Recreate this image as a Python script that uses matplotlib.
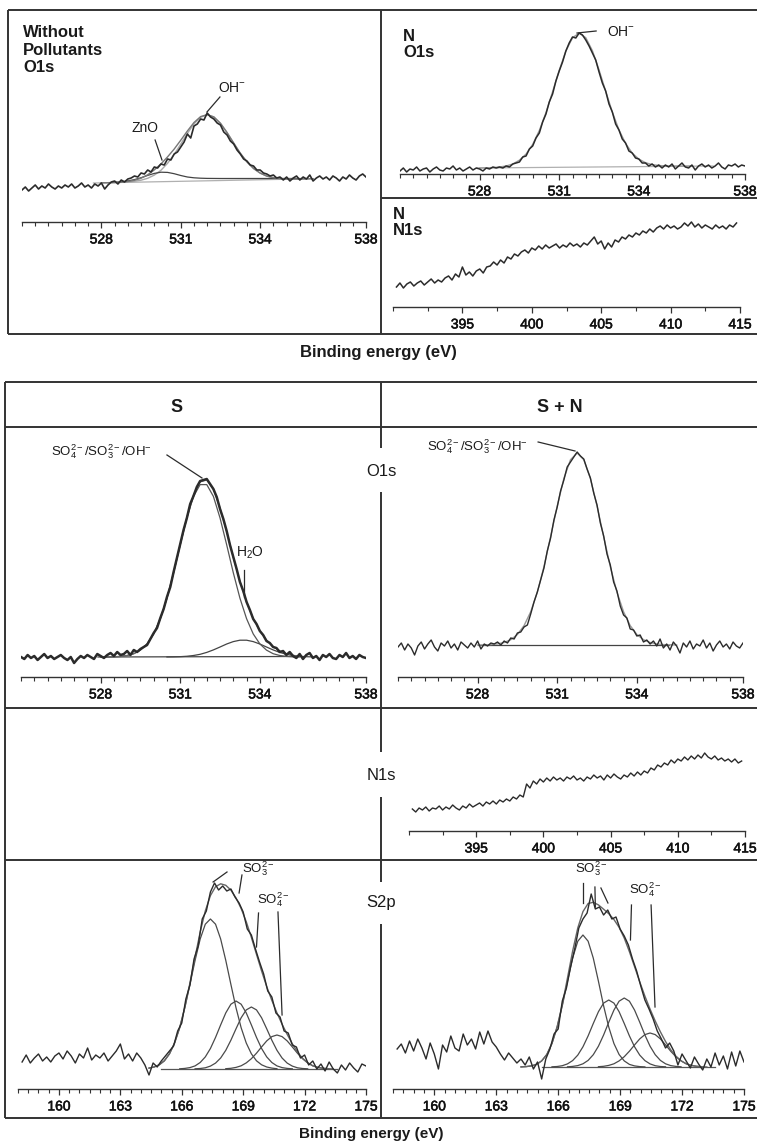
import numpy as np
import matplotlib
matplotlib.use("Agg")
import matplotlib.pyplot as plt
import matplotlib.patheffects as pe

plt.rcParams['font.family'] = ['Liberation Sans', 'DejaVu Sans']
plt.rcParams['mathtext.fontset'] = 'custom'
plt.rcParams['mathtext.rm'] = 'Liberation Sans'
plt.rcParams['mathtext.it'] = 'Liberation Sans:italic'
plt.rcParams['mathtext.bf'] = 'Liberation Sans:bold'

W, H = 757, 1144

# ---- energy grids (eV) ----
o1s_grid = np.linspace(525, 538, 105)
n1s_grid = np.linspace(390.25, 414.75, 99)
s2p_grid = np.linspace(158.2, 175.0, 85)

# ---- without pollutants, O1s (intensity, a.u.) ----
clean_o1s = [32, 35, 31, 34, 37, 33, 36, 34, 38, 35, 33, 36, 34, 37, 35, 38, 34, 36, 39, 35,
             37, 34, 38, 36, 39, 33, 37, 40,
             41, 38, 42, 40, 43, 44, 46, 45, 49, 48, 52, 50, 55, 54, 58, 57, 63, 62, 68, 70,
             75, 80, 88, 84, 96, 98, 103, 102, 109, 105, 103, 99, 97, 90, 87, 81, 78, 72, 68, 63,
             61, 57, 56, 52, 52, 49, 48, 46, 47, 44, 45, 42, 45,
             41, 44, 46, 42, 45, 43, 47, 41, 44, 46, 43, 45, 42, 46, 44, 41, 45, 43, 47, 44,
             42, 46, 48, 45]
clean_fit_e = np.linspace(528, 536, 33)
clean_oh = [39.2, 39.3, 39.5, 39.7, 40.1, 40.7, 41.8, 43.7, 46.9, 51.7, 58.7, 67.5, 77.9, 88.6,
            98.2, 104.8, 107.2, 105.0, 98.7, 89.4, 78.9, 68.7, 60.2, 53.5, 48.9, 45.9, 44.3,
            43.5, 43.1, 43.0, 43.0, 43.1, 43.3]
clean_env = [39.2, 39.3, 39.5, 39.8, 40.5, 41.7, 43.8, 47.2, 52.1, 58.0, 65.1, 72.9, 81.8, 91.0,
             99.5, 105.4, 107.4, 105.1, 98.7, 89.4, 78.9, 68.7, 60.2, 53.5, 48.9, 45.9, 44.3,
             43.5, 43.1, 43.0, 43.0, 43.1, 43.3]
clean_zno_e = [528.5, 528.75, 529.0, 529.25, 529.5, 529.75, 530.0, 530.25, 530.5, 530.75, 531.0,
               531.25, 531.5, 531.75, 532.0, 532.5, 535.5]
clean_zno = [39.6, 40.2, 41.1, 42.4, 44.3, 46.6, 48.6, 49.8, 49.6, 48.3, 46.5, 45.0, 44.2, 43.8,
             43.6, 43.5, 43.5]
clean_bg_e = [527.7, 535.5]
clean_bg = [39, 43]

# ---- N, O1s ----
n_o1s = [3, 6, 2, 5, 4, 7, 3, 5, 6, 2, 5, 7, 4, 3, 6, 5, 8, 4, 6, 3, 5, 7, 4, 6, 5, 3, 6, 5, 7, 6,
         7, 6, 8, 7, 10, 11, 12, 17, 18, 25, 28, 36, 41, 52, 60, 72, 80, 93, 103, 112,
         123, 131, 137, 136, 141, 139, 134, 128, 121, 114, 102, 91, 83, 70, 62, 50, 44, 35, 31, 23,
         21, 16, 15, 11, 11, 8, 10, 7, 9,
         6, 9, 7, 10, 5, 8, 11, 7, 6, 9, 4, 8, 10, 7, 9, 6, 8, 11, 7, 5, 9, 8, 10, 7, 9, 8]
n_fit_e = np.linspace(528, 536, 33)
n_oh = [6.0, 6.2, 6.4, 7.0, 8.0, 10.0, 13.8, 19.9, 29.6, 43.5, 61.3, 82.3, 103.7, 123.0, 136.2,
        140.9, 136.3, 123.3, 104.1, 82.8, 62.0, 44.2, 30.6, 20.9, 14.9, 11.3, 9.4, 8.5, 8.1, 8.0,
        7.9, 7.9, 8.0]
n_bg_e = [527.9, 536.8]
n_bg = [6, 8]

# ---- N, N1s ----
n_n1s = [20, 24, 19, 23, 25, 21, 24, 26, 22, 25, 28, 24, 27, 25, 29, 31, 27, 33, 30, 40,
         32, 35, 31, 36, 38, 34, 40, 41, 45, 42, 47, 44, 50, 48, 53, 51, 55, 57, 54, 59,
         57, 61, 58, 62, 59, 61, 63, 59, 62, 60, 64, 61, 63, 60, 64, 62, 66, 70, 63, 66,
         58, 64, 60, 67, 65, 70, 68, 72, 70, 74, 72, 76, 74, 78, 75, 79, 81, 78, 82, 79,
         81, 78, 80, 84, 81, 85, 80, 83, 79, 82, 80, 78, 82, 79, 81, 78, 82, 80, 84]

# ---- S, O1s ----
s_o1s = [20, 18, 22, 19, 21, 17, 20, 23, 19, 21, 18, 20, 22, 19, 17, 20, 14, 18, 21, 19, 22, 20,
         18, 23, 21, 19, 22, 24, 21, 25, 22, 23, 26, 22, 27, 25,
         28, 30, 32, 38, 44, 49, 59, 68, 80, 90, 105, 119, 133, 147, 159, 173, 181, 190, 196, 197,
         198, 193, 188, 180, 168, 158, 146, 132, 120, 108, 95, 86, 75, 67, 58, 53, 46, 42, 36, 34,
         30, 29, 25, 26, 22, 25,
         21, 19, 23, 18, 22, 24, 19, 21, 17, 22, 20, 23, 19, 18, 22, 20, 24, 19, 21, 18, 22, 20, 19]
s_fit_e = np.linspace(528, 535.5, 31)
s_main = [20.0, 20.0, 20.2, 20.6, 21.5, 23.3, 26.9, 33.1, 43.1, 58.3, 78.8, 104.2, 132.2, 159.0,
          180.6, 192.4, 192.4, 180.6, 159.0, 132.2, 104.2, 78.8, 58.3, 43.1, 33.1, 26.9, 23.3,
          21.5, 20.6, 20.2, 20.0]
s_env = [20.0, 20.0, 20.2, 20.6, 21.5, 23.3, 26.9, 33.1, 43.1, 58.3, 78.9, 104.3, 132.5, 159.7,
         182.1, 195.1, 197.0, 187.7, 169.0, 145.2, 119.6, 95.6, 75.1, 58.5, 46.1, 36.9, 30.4,
         26.1, 23.3, 21.7, 20.7]
s_h2o_e = np.linspace(530.5, 536.0, 23)
s_h2o = [20.05, 20.14, 20.34, 20.74, 21.5, 22.7, 24.6, 27.1, 30.0, 33.0, 35.4, 36.8, 36.8, 35.4,
         33.0, 30.0, 27.1, 24.6, 22.7, 21.5, 20.7, 20.3, 20.1]
s_bg_e = [527.9, 535.2]
s_bg = [20, 20.5]

# ---- S + N, O1s ----
sn_o1s = [30, 34, 27, 33, 29, 22, 31, 35, 28, 33, 37, 30, 26, 34, 31, 36, 29, 33, 27, 35, 32, 29,
          34, 30, 36, 28, 33, 31, 34,
          33, 35, 32, 36, 34, 39, 38, 44, 45, 50, 52, 63, 75, 85, 97, 109, 126, 139, 157, 170,
          186, 197, 210, 215, 220, 225, 221, 218, 208, 199, 184, 172, 154, 141, 123, 112, 95, 86,
          71, 62, 59, 48, 47, 41, 42, 35, 37, 33, 36, 31,
          38, 29, 33, 27, 35, 31, 24, 34, 30, 36, 28, 33, 31, 37, 29, 34, 26, 32, 36, 30, 33, 28,
          35, 31, 29, 34]
sn_fit_e = np.linspace(528, 535.5, 31)
sn_main = [32.0, 32.2, 32.4, 33.1, 34.5, 37.3, 42.5, 51.4, 65.2, 84.8, 110.3, 140.3, 171.0, 198.5,
           217.3, 224.0, 217.3, 198.5, 171.0, 140.3, 110.3, 84.8, 65.2, 51.4, 42.5, 37.3, 34.5,
           33.1, 32.4, 32.2, 32.0]
sn_bg_e = [528.0, 535.2]
sn_bg = [32, 32]

# ---- S + N, N1s ----
sn_n1s = [22, 19, 23, 21, 24, 20, 23, 22, 25, 21, 24, 22, 26, 23, 21, 25, 23, 27, 24, 26,
          28, 25, 29, 27, 30, 27, 31, 29, 32, 30, 34, 32, 36, 34, 47, 43, 50, 47, 52, 49,
          53, 50, 54, 51, 53, 50, 54, 52, 55, 51, 53, 50, 54, 52, 56, 53, 55, 51, 56, 53,
          57, 54, 52, 56, 54, 58, 55, 59, 56, 60, 58, 63, 61, 66, 64, 68, 66, 71, 68, 72,
          70, 74, 71, 75, 72, 76, 73, 78, 74, 72, 75, 71, 73, 70, 72, 69, 72, 68, 70]

# ---- S, S2p ----
s_s2p = [27, 34, 26, 31, 35, 28, 32, 27, 33, 36, 30, 38, 33, 26, 35, 31, 41, 29, 34, 31,
         36, 28, 33, 38, 45, 30, 35, 28, 36, 31, 24, 14, 26, 22, 28,
         33, 38, 43, 58, 66, 90, 104, 130, 143, 170, 178, 197, 206, 199, 203, 198, 200, 192, 186,
         177, 160, 154, 140, 127, 115, 98, 92, 76, 72, 58, 56, 44, 42, 31, 34, 24, 28, 20, 25, 18,
         27, 20, 16, 24, 19, 26, 21, 17, 25, 23]
s_s2p_env_e = np.linspace(164.4, 173.4, 37)
s_s2p_env = [20.9, 22.0, 24.2, 28.2, 35.2, 46.1, 61.5, 81.8, 106.1, 131.9, 157.0, 178.1, 193.4,
             202.3, 205.2, 203.7, 198.9, 191.0, 180.5, 167.3, 151.6, 134.7, 118.0, 102.4, 88.6,
             76.1, 64.8, 54.6, 45.2, 37.0, 30.8, 26.3, 23.2, 21.6, 20.7, 20.3, 20.1]
s_s2p_c1_e = np.linspace(164.4, 170.65, 26)
s_s2p_c1 = [20.9, 22.0, 24.2, 28.2, 35.2, 46.0, 61.3, 81.2, 104.6, 128.6, 150.0, 164.8, 170.0,
            164.8, 150.0, 128.6, 104.6, 81.2, 61.3, 46.0, 35.2, 28.2, 24.2, 22.0, 20.9, 20.3]
s_s2p_c2_e = np.linspace(165.9, 171.4, 23)
s_s2p_c2 = [20.2, 20.6, 21.4, 23.1, 26.5, 32.1, 40.5, 51.6, 64.1, 76.1, 84.8, 88.0, 84.8, 76.1,
            64.1, 51.6, 40.5, 32.1, 26.5, 23.1, 21.4, 20.6, 20.2]
s_s2p_c3_e = np.linspace(166.65, 172.15, 23)
s_s2p_c3 = [20.2, 20.5, 21.2, 22.9, 25.9, 31.0, 38.7, 48.8, 60.2, 71.2, 79.1, 82.0, 79.1, 71.2,
            60.2, 48.8, 38.7, 31.0, 25.9, 22.9, 21.2, 20.5, 20.2]
s_s2p_c4_e = np.linspace(168.15, 173.15, 21)
s_s2p_c4 = [20.3, 20.7, 21.6, 23.2, 26.1, 30.3, 35.8, 42.1, 48.1, 52.4, 54.0, 52.4, 48.1, 42.1,
            35.8, 30.3, 26.1, 23.2, 21.6, 20.7, 20.3]
s_s2p_bg_e = [165.0, 173.6]
s_s2p_bg = [20, 20]

# ---- S + N, S2p ----
sn_s2p = [40, 45, 36, 48, 38, 50, 41, 30, 46, 35, 20, 44, 37, 53, 41, 38, 55, 44, 50, 40,
          57, 45, 58, 47, 42, 35, 29, 36, 31, 26, 30, 24, 32, 20, 27, 10, 30,
          40, 55, 60, 88, 101, 122, 140, 161, 170, 176, 195, 180, 182, 174, 179, 170, 172, 160,
          153, 144, 130, 118, 103, 89, 80, 70, 58, 50, 41, 46, 38, 24, 35, 28, 21,
          32, 25, 19, 30, 22, 36, 24, 33, 20, 37, 23, 38, 27]
sn_s2p_env_e = np.linspace(164.2, 173.2, 37)
sn_s2p_env = [22.1, 22.4, 23.1, 24.6, 28.1, 34.5, 45.7, 62.4, 84.5, 111.0, 137.9, 161.1, 177.4,
              185.5, 186.7, 184.1, 179.8, 175.3, 169.5, 161.7, 150.9, 137.3, 122.3, 107.2, 92.9,
              79.9, 68.0, 57.2, 47.5, 39.2, 32.9, 28.3, 25.2, 23.6, 22.7, 22.3, 22.0]
sn_s2p_c1_e = np.linspace(164.2, 170.2, 25)
sn_s2p_c1 = [22.1, 22.4, 23.1, 24.6, 28.1, 34.5, 45.5, 61.9, 83.2, 107.7, 130.9, 147.8, 154.0,
             147.8, 130.9, 107.7, 83.2, 61.9, 45.5, 34.5, 28.1, 24.6, 23.1, 22.4, 22.1]
sn_s2p_c2_e = np.linspace(165.7, 171.2, 23)
sn_s2p_c2 = [22.2, 22.5, 23.3, 25.1, 28.4, 33.9, 42.2, 53.1, 65.5, 77.3, 85.9, 89.0, 85.9, 77.3,
             65.5, 53.1, 42.2, 33.9, 28.4, 25.1, 23.3, 22.5, 22.2]
sn_s2p_c3_e = np.linspace(166.45, 171.95, 23)
sn_s2p_c3 = [22.2, 22.6, 23.4, 25.2, 28.6, 34.3, 42.8, 54.0, 66.8, 78.9, 87.8, 91.0, 87.8, 78.9,
             66.8, 54.0, 42.8, 34.3, 28.6, 25.2, 23.4, 22.6, 22.2]
sn_s2p_c4_e = np.linspace(167.95, 172.95, 21)
sn_s2p_c4 = [22.3, 22.7, 23.6, 25.2, 28.1, 32.3, 37.8, 44.1, 50.1, 54.4, 56.0, 54.4, 50.1, 44.1,
             37.8, 32.3, 28.1, 25.2, 23.6, 22.7, 22.3]
sn_s2p_bg_e = [165.2, 173.6]
sn_s2p_bg = [22, 22]

o1s_ticks = [528, 531, 534, 538]
n1s_ticks = [395, 400, 405, 410, 415]
s2p_ticks = [160, 163, 166, 169, 172, 175]

DARK = '#2b2b2b'
FRAME = '#333333'

fig = plt.figure(figsize=(W / 100, H / 100), dpi=100)

# frame layer in pixel coordinates
frame = fig.add_axes([0, 0, 1, 1], zorder=0)
frame.set_xlim(0, W)
frame.set_ylim(H, 0)
frame.axis('off')


def hline(y, x0, x1):
    frame.plot([x0, x1], [y, y], color=FRAME, lw=1.4, solid_capstyle='butt')


def vline(x, y0, y1):
    frame.plot([x, x], [y0, y1], color=FRAME, lw=1.4, solid_capstyle='butt')


# top block
hline(10, 8, W)
hline(334, 8, W)
vline(8, 10, 334)
vline(381, 10, 334)
hline(198, 381, W)
# bottom block
hline(382, 5, W)
hline(427, 5, W)
hline(708, 5, W)
hline(860, 5, W)
hline(1118, 5, W)
vline(5, 382, 1118)
vline(381, 382, 448)
vline(381, 492, 752)
vline(381, 797, 882)
vline(381, 924, 1118)

bold = dict(fontweight='bold', color='#1a1a1a')
frame.text(23, 25, 'Without\nPollutants\nO1s', fontsize=12, va='top', ha='left', linespacing=1.22, **bold)
frame.text(403, 29, 'N\nO1s', fontsize=12, va='top', ha='left', linespacing=1.12, **bold)
frame.text(393, 207, 'N\nN1s', fontsize=12, va='top', ha='left', linespacing=1.12, **bold)
frame.text(378, 353, 'Binding energy (eV)', fontsize=12, ha='center', va='center', **bold)
frame.text(371, 1134, 'Binding energy (eV)', fontsize=11, ha='center', va='center', **bold)
frame.text(177, 407, 'S', fontsize=13, ha='center', va='center', **bold)
frame.text(560, 408, 'S + N', fontsize=13, ha='center', va='center', **bold)
for lab, y in [('O1s', 471), ('N1s', 775), ('S2p', 903)]:
    frame.text(381, y, lab, fontsize=12, ha='center', va='center', color='#1a1a1a')

semibold = [pe.withStroke(linewidth=0.4, foreground='#111111')]


def panel(x0, x1, y_axis, y_top, xlim, ticks, minor_step):
    ax = fig.add_axes([x0 / W, 1 - y_axis / H, (x1 - x0) / W, (y_axis - y_top) / H], zorder=1)
    ax.set_facecolor('none')
    ax.set_xlim(xlim)
    ax.set_ylim(0, y_axis - y_top)
    for s in ('top', 'left', 'right'):
        ax.spines[s].set_visible(False)
    ax.spines['bottom'].set_color(FRAME)
    ax.spines['bottom'].set_linewidth(1.0)
    ax.set_yticks([])
    ax.set_xticks(ticks)
    ax.set_xticklabels([str(t) for t in ticks])
    ax.set_xticks(np.arange(xlim[0], xlim[1] + 1e-6, minor_step), minor=True)
    ax.tick_params(axis='x', which='major', length=4.5, width=0.9, color=FRAME, pad=3,
                   labelsize=10, labelcolor='#111111')
    ax.tick_params(axis='x', which='minor', length=3, width=0.8, color=FRAME)
    for t in ax.get_xticklabels():
        t.set_path_effects(semibold)
    return ax


def leader(ax, xs, ys):
    ax.plot(xs, ys, color=DARK, lw=0.9, clip_on=False)


def label(ax, x, y, s, ha='left', size=10):
    ax.text(x, y, s, fontsize=size, ha=ha, va='center', color='#1a1a1a', clip_on=False)


# ---- panel: without pollutants O1s ----
ax = panel(22, 366, 222, 10, (525, 538), o1s_ticks, 0.5)
ax.plot(clean_bg_e, clean_bg, color='#b0b0b0', lw=0.9)
ax.plot(clean_fit_e, clean_oh, color='#a8a8a8', lw=1.0)
ax.plot(clean_zno_e, clean_zno, color='#444444', lw=0.9)
ax.plot(clean_fit_e, clean_env, color='#777777', lw=1.0)
ax.plot(o1s_grid, clean_o1s, color=DARK, lw=1.2)
label(ax, 529.65, 94, 'ZnO', ha='center')
leader(ax, [530.03, 530.29], [82, 62])
label(ax, 532.4, 134, 'OH$^{-}$')
leader(ax, [532.48, 531.99], [125, 110])

# ---- panel: N O1s ----
ax = panel(400, 745, 174, 10, (525, 538), o1s_ticks, 0.5)
ax.plot(n_bg_e, n_bg, color='#b0b0b0', lw=0.9)
ax.plot(n_fit_e, n_oh, color='#9a9a9a', lw=1.0)
ax.plot(o1s_grid, n_o1s, color=DARK, lw=1.1)
label(ax, 532.8, 142, 'OH$^{-}$')
leader(ax, [531.67, 532.39], [141, 143])

# ---- panel: N N1s ----
ax = panel(393, 740, 307, 198, (390, 415), n1s_ticks, 2.5)
ax.plot(n1s_grid, n_n1s, color=DARK, lw=1.1)

# ---- panel: S O1s ----
ax = panel(21, 366, 677, 427, (525, 538), o1s_ticks, 0.5)
ax.plot(s_bg_e, s_bg, color='#444444', lw=0.9)
ax.plot(s_h2o_e, s_h2o, color='#444444', lw=0.9)
ax.plot(s_fit_e, s_main, color='#555555', lw=0.9)
ax.plot(s_fit_e, s_env, color='#666666', lw=0.9)
ax.plot(o1s_grid, s_o1s, color=DARK, lw=1.8)
label(ax, 528.05, 225, 'SO$_4^{2-}$/SO$_3^{2-}$/OH$^{-}$', ha='center', size=9.5)
leader(ax, [530.5, 531.82], [222, 199])
label(ax, 533.63, 124, 'H$_2$O', ha='center')
leader(ax, [533.4, 533.4], [107, 80])

# ---- panel: S + N O1s ----
ax = panel(398, 743, 677, 427, (525, 538), o1s_ticks, 0.5)
ax.plot(sn_bg_e, sn_bg, color='#444444', lw=0.9)
ax.plot(sn_fit_e, sn_main, color='#999999', lw=1.0)
ax.plot(o1s_grid, sn_o1s, color=DARK, lw=1.0)
label(ax, 528.01, 230, 'SO$_4^{2-}$/SO$_3^{2-}$/OH$^{-}$', ha='center', size=9.5)
leader(ax, [530.28, 531.67], [235, 226])

# ---- panel: S + N N1s ----
ax = panel(409, 745, 831, 708, (390, 415), n1s_ticks, 2.5)
ax.plot(n1s_grid, sn_n1s, color=DARK, lw=1.0)

# ---- panel: S S2p ----
ax = panel(18, 366, 1089, 860, (158, 175), s2p_ticks, 0.5)
ax.plot(s_s2p_bg_e, s_s2p_bg, color='#555555', lw=0.9)
for e, c in [(s_s2p_c1_e, s_s2p_c1), (s_s2p_c2_e, s_s2p_c2),
             (s_s2p_c3_e, s_s2p_c3), (s_s2p_c4_e, s_s2p_c4)]:
    ax.plot(e, c, color='#4a4a4a', lw=0.9)
ax.plot(s_s2p_env_e, s_s2p_env, color='#666666', lw=1.0)
ax.plot(s2p_grid, s_s2p, color=DARK, lw=1.0)
label(ax, 168.95, 220, 'SO$_3^{2-}$', size=9.5)
leader(ax, [167.53, 168.21], [207, 217])
leader(ax, [168.8, 168.94], [196, 214])
label(ax, 170.5, 189, 'SO$_4^{2-}$', ha='center', size=9.5)
leader(ax, [169.75, 169.65], [176, 142])
leader(ax, [170.7, 170.9], [177, 74])

# ---- panel: S + N S2p ----
ax = panel(393, 744, 1089, 860, (158, 175), s2p_ticks, 0.5)
ax.plot(sn_s2p_bg_e, sn_s2p_bg, color='#555555', lw=0.9)
for e, c in [(sn_s2p_c1_e, sn_s2p_c1), (sn_s2p_c2_e, sn_s2p_c2),
             (sn_s2p_c3_e, sn_s2p_c3), (sn_s2p_c4_e, sn_s2p_c4)]:
    ax.plot(e, c, color='#4a4a4a', lw=0.9)
ax.plot(sn_s2p_env_e, sn_s2p_env, color='#666666', lw=1.0)
ax.plot(s2p_grid, sn_s2p, color=DARK, lw=1.0)
label(ax, 167.6, 220, 'SO$_3^{2-}$', ha='center', size=9.5)
leader(ax, [167.2, 167.2], [206, 186])
leader(ax, [167.78, 167.8], [202, 182])
leader(ax, [168.07, 168.41], [201, 186])
label(ax, 170.25, 199, 'SO$_4^{2-}$', ha='center', size=9.5)
leader(ax, [169.55, 169.5], [184, 149])
leader(ax, [170.5, 170.69], [184, 82])

fig.savefig('out.png', dpi=100)
